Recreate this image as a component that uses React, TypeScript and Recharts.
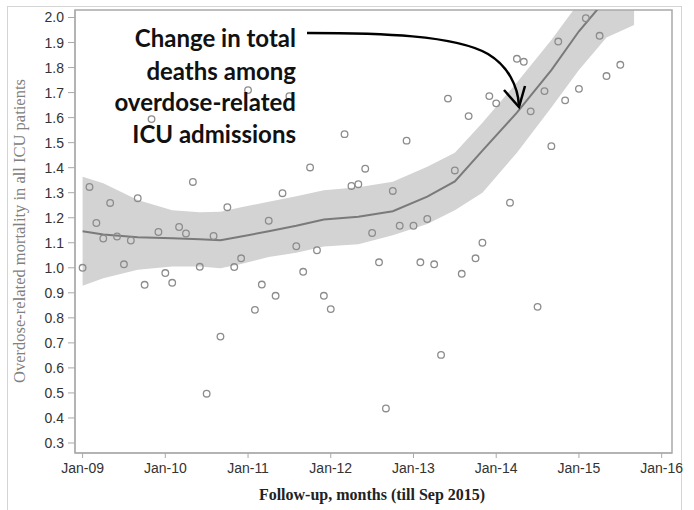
import React from "react";
import {
  ComposedChart,
  Area,
  Line,
  Scatter,
  XAxis,
  YAxis,
  ReferenceArea,
} from "recharts";

// Observed monthly values (month 0 = Jan 2009)
const scatterMonths = [
  0, 1, 2, 3, 4, 5, 6, 7, 8, 9, 10, 11, 12, 13, 14, 15, 16, 17, 18, 19, 20,
  21, 22, 23, 24, 25, 26, 27, 28, 29, 30, 31, 32, 33, 34, 35, 36, 38, 39, 40,
  41, 42, 43, 44, 45, 46, 47, 48, 49, 50, 51, 52, 53, 54, 55, 56, 57, 58, 59,
  60, 62, 63, 64, 65, 66, 67, 68, 69, 70, 72, 73, 75, 76, 78,
];
const scatterValues = [
  1.0, 1.323, 1.179, 1.117, 1.259, 1.125, 1.014, 1.109, 1.278, 0.932, 1.594,
  1.143, 0.979, 0.94, 1.163, 1.137, 1.343, 1.004, 0.497, 1.127, 0.725, 1.242,
  1.003, 1.038, 1.71, 0.832, 0.933, 1.188, 0.888, 1.298, 1.686, 1.086, 0.984,
  1.401, 1.07, 0.888, 0.835, 1.534, 1.327, 1.334, 1.396, 1.139, 1.022, 0.438,
  1.307, 1.168, 1.508, 1.168, 1.022, 1.195, 1.014, 0.652, 1.676, 1.389, 0.976,
  1.606, 1.038, 1.1, 1.686, 1.657, 1.26, 1.835, 1.823, 1.625, 0.844, 1.706,
  1.486, 1.904, 1.669, 1.715, 1.997, 1.927, 1.766, 1.811,
];

// Smoothed fit with confidence band
const fitMonths = [0, 3, 8, 13, 17, 20, 23, 27, 31, 35, 40, 45, 50, 54, 58, 63, 68, 72, 76, 80];
const fitValues = [
  1.146, 1.133, 1.122, 1.118, 1.114, 1.11, 1.125, 1.146, 1.168, 1.193, 1.204,
  1.226, 1.284, 1.345, 1.468, 1.62, 1.79, 1.945, 2.075, 2.2,
];
const fitLower = [
  0.928, 0.958, 0.992, 1.005, 1.005, 0.998, 1.015, 1.043, 1.06, 1.085, 1.094,
  1.13, 1.175, 1.23, 1.3, 1.46, 1.64, 1.79, 1.92, 1.97,
];
const fitUpper = [
  1.364, 1.338, 1.271, 1.23, 1.222, 1.224, 1.242, 1.264, 1.286, 1.31, 1.322,
  1.344, 1.404, 1.46, 1.58, 1.74, 1.91, 2.06, 2.2, 2.33,
];

const xTickMonths = [0, 12, 24, 36, 48, 60, 72, 84];
const xTickLabels = ["Jan-09", "Jan-10", "Jan-11", "Jan-12", "Jan-13", "Jan-14", "Jan-15", "Jan-16"];
const yTicks = [0.3, 0.4, 0.5, 0.6, 0.7, 0.8, 0.9, 1.0, 1.1, 1.2, 1.3, 1.4, 1.5, 1.6, 1.7, 1.8, 1.9, 2.0];

const xDomain = [-1.1, 85.5];
const yDomain = [0.26, 2.03];

const scatterData = scatterMonths.map((m, i) => ({ m, v: scatterValues[i] }));
const fitData = fitMonths.map((m, i) => ({
  m,
  fit: fitValues[i],
  band: [fitLower[i], fitUpper[i]],
}));

const frameColor = "#a9a9a9";

const HollowCircle = (props: any) => {
  const { cx, cy } = props;
  if (cx == null || cy == null) return null;
  return <circle cx={cx} cy={cy} r={3.3} fill="none" stroke="#8c8c8c" strokeWidth={1.3} />;
};

export default function App() {
  return (
    <div style={{ position: "absolute", left: 0, top: 0, width: 694, height: 510, background: "#fff" }}>
      <div
        style={{
          position: "absolute",
          left: 7,
          top: 6,
          width: 675,
          height: 510,
          border: "1px solid #d4d4d4",
          boxSizing: "border-box",
        }}
      />
      <div style={{ position: "absolute", left: 0, top: 0 }}>
        <ComposedChart
          width={694}
          height={510}
          data={fitData}
          margin={{ top: 10, right: 22, bottom: 0, left: 0 }}
        >
          <XAxis
            dataKey="m"
            type="number"
            domain={xDomain}
            allowDataOverflow
            ticks={xTickMonths}
            tickFormatter={(v: number) => xTickLabels[xTickMonths.indexOf(v)] ?? ""}
            height={57}
            stroke={frameColor}
            tickSize={5}
            tickMargin={5}
            tick={{ fill: "#333", fontSize: 14, fontFamily: "Liberation Sans, Arial, sans-serif" }}
            interval={0}
          />
          <YAxis
            type="number"
            domain={yDomain}
            allowDataOverflow
            ticks={yTicks}
            tickFormatter={(v: number) => v.toFixed(1)}
            width={75}
            stroke={frameColor}
            tickSize={7}
            tickMargin={4}
            tick={{ fill: "#333", fontSize: 14, fontFamily: "Liberation Sans, Arial, sans-serif" }}
            interval={0}
          />
          <Area
            dataKey="band"
            type="linear"
            stroke="none"
            fill="#d3d3d3"
            fillOpacity={1}
            isAnimationActive={false}
            activeDot={false}
          />
          <Line
            dataKey="fit"
            type="linear"
            stroke="#7a7a7a"
            strokeWidth={2}
            dot={false}
            activeDot={false}
            isAnimationActive={false}
          />
          <Scatter
            data={scatterData}
            dataKey="v"
            shape={HollowCircle}
            isAnimationActive={false}
          />
          <ReferenceArea
            x1={xDomain[0]}
            x2={xDomain[1]}
            y1={yDomain[0]}
            y2={yDomain[1]}
            fill="none"
            fillOpacity={0}
            stroke={frameColor}
            strokeWidth={1.5}
          />
        </ComposedChart>
      </div>
      <svg
        width={694}
        height={510}
        style={{ position: "absolute", left: 0, top: 0, pointerEvents: "none" }}
      >
        <g fontFamily="Lato, 'Open Sans', sans-serif" fontWeight={700} fontSize={24} fill="#111" textAnchor="end">
          <text x={296} y={47}>Change in total</text>
          <text x={296} y={80}>deaths among</text>
          <text x={296} y={111}>overdose-related</text>
          <text x={296} y={143}>ICU admissions</text>
        </g>
        <path
          d="M307,33 C380,33 455,35 488,54 C508,66 518,86 519,106"
          fill="none"
          stroke="#000"
          strokeWidth={2.5}
        />
        <path d="M504,90 L519,107 L525,86" fill="none" stroke="#000" strokeWidth={2.5} />
        <text
          transform="translate(25,231) rotate(-90)"
          textAnchor="middle"
          fontFamily="'Liberation Serif', 'Times New Roman', serif"
          fontSize={16.5}
          fill="#808080"
        >
          Overdose-related mortality in all ICU patients
        </text>
        <text
          x={372}
          y={500}
          textAnchor="middle"
          fontFamily="'Liberation Serif', 'Times New Roman', serif"
          fontWeight={700}
          fontSize={16}
          fill="#222"
        >
          Follow-up, months (till Sep 2015)
        </text>
      </svg>
    </div>
  );
}
